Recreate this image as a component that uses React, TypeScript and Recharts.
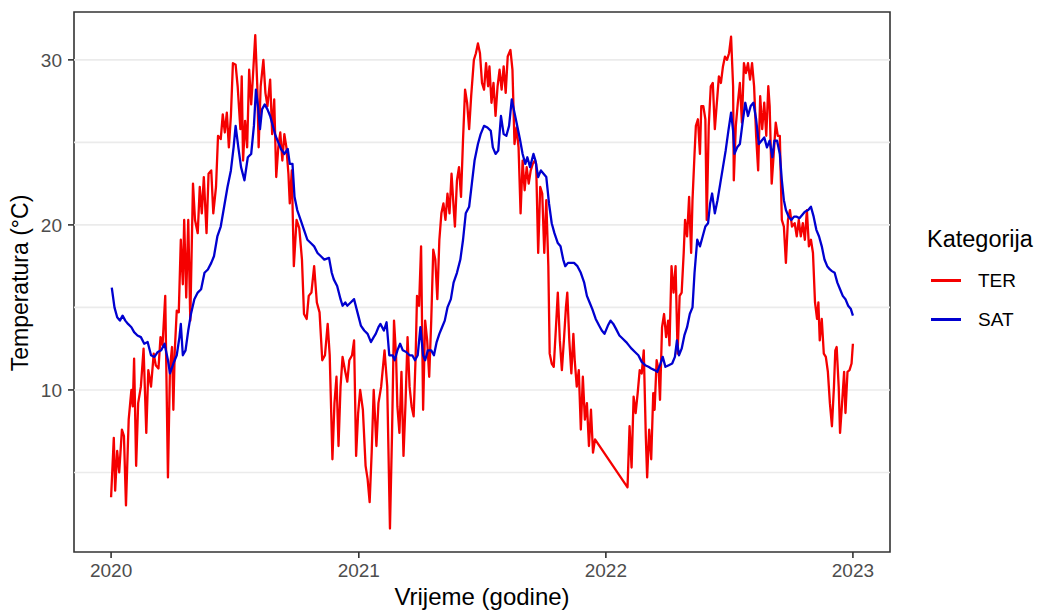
import { LineChart, Line, XAxis, YAxis, ReferenceLine, ReferenceArea } from 'recharts';

// day 0 = 1.1.2020
const terDays = [
  0, 4, 6, 9, 12, 16, 19, 22, 26, 30, 32, 34, 37, 40, 44, 48, 52, 55, 59, 63, 66, 70, 73, 76, 80, 84, 87, 90, 92, 94,
  97, 100, 103, 106, 108, 111, 114, 117, 121, 124, 128, 131, 134, 137, 141, 144, 148, 151, 155, 158, 162, 165, 168, 171, 174, 177, 180, 184, 187, 191,
  193, 195, 198, 201, 204, 207, 209, 213, 216, 218, 221, 225, 228, 231, 235, 238, 241, 244, 247, 250, 253, 256, 259, 262, 264, 267, 270, 274, 278, 282,
  285, 289, 292, 296, 300, 304, 308, 312, 316, 320, 323, 327, 330, 333, 336, 339, 342, 346, 349, 352, 356, 359, 362, 365, 368, 372, 376, 379, 382, 385,
  388, 392, 395, 399, 404, 408, 412, 415, 418, 421, 423, 426, 429, 432, 435, 438, 441, 444, 447, 450, 452, 455, 458, 461, 464, 467, 470, 473, 476, 479,
  482, 485, 488, 491, 494, 497, 500, 503, 506, 508, 511, 514, 517, 520, 523, 526, 529, 532, 536, 539, 542, 545, 548, 551, 554, 557, 559, 562, 565, 568,
  571, 574, 577, 580, 583, 586, 590, 593, 596, 599, 602, 605, 608, 611, 614, 617, 620, 623, 626, 628, 631, 634, 637, 640, 643, 646, 648, 651, 654, 657,
  660, 663, 666, 669, 672, 674, 677, 680, 683, 685, 688, 691, 694, 697, 700, 703, 706, 709, 712, 715, 763, 766, 769, 772, 775, 778, 781, 784, 787, 790,
  792, 795, 798, 801, 803, 806, 809, 811, 814, 817, 820, 823, 825, 828, 831, 834, 837, 840, 843, 846, 848, 851, 854, 857, 859, 862, 864, 867, 870, 872,
  875, 878, 880, 883, 886, 889, 892, 895, 898, 901, 904, 907, 910, 913, 916, 919, 920, 923, 926, 929, 932, 935, 938, 941, 944, 947, 950, 953, 956, 959,
  962, 965, 968, 971, 973, 976, 979, 982, 985, 988, 991, 994, 997, 1000, 1003, 1006, 1010, 1013, 1016, 1019, 1022, 1025, 1028, 1031, 1034, 1037, 1040, 1043, 1045, 1047,
  1050, 1053, 1056, 1059, 1062, 1065, 1068, 1070, 1072, 1075, 1077, 1080, 1083, 1085, 1088, 1091, 1094, 1096,
];
const terTemps = [
  3.5, 7.1, 3.9, 6.3, 5.0, 7.6, 7.2, 3.0, 8.2, 10.0, 9.0, 11.9, 5.4, 9.2, 10.2, 12.5, 7.4, 11.2, 10.2, 12.2, 11.5, 11.3, 13.2, 12.7, 15.7, 4.7, 11.3, 12.6, 8.8, 12.3,
  14.8, 14.7, 19.1, 16.4, 20.3, 15.6, 20.3, 14.2, 22.5, 20.3, 19.5, 22.3, 20.7, 22.9, 19.5, 23.1, 23.3, 20.7, 22.3, 25.4, 25.2, 26.7, 25.6, 26.8, 24.7, 26.6, 29.8, 29.7, 28.4, 25.8,
  29.0, 23.9, 26.3, 24.7, 29.4, 27.3, 28.6, 31.5, 28.4, 24.7, 28.4, 30.0, 28.0, 27.2, 28.8, 25.5, 27.6, 22.9, 24.7, 25.6, 23.9, 25.5, 24.7, 23.1, 21.3, 23.3, 17.5, 20.3, 19.8, 17.9,
  14.6, 14.3, 15.7, 15.9, 17.5, 15.3, 14.7, 11.8, 12.1, 14.0, 12.1, 5.8, 9.2, 10.8, 6.6, 10.2, 12.0, 11.1, 10.5, 11.8, 12.1, 13.0, 6.0, 8.6, 10.0, 8.8, 5.4, 4.6, 3.2, 6.2,
  10.0, 6.6, 9.2, 10.2, 12.4, 10.2, 1.6, 7.2, 14.2, 12.1, 9.0, 7.4, 11.1, 6.0, 9.2, 13.2, 10.2, 9.0, 8.4, 12.1, 15.7, 15.1, 18.7, 8.8, 14.2, 13.0, 10.8, 14.2, 18.5, 17.9,
  15.5, 19.1, 20.7, 21.3, 20.3, 21.9, 20.7, 23.1, 21.1, 19.9, 22.7, 23.5, 21.7, 25.2, 28.2, 27.4, 25.8, 27.8, 30.0, 30.4, 31.0, 30.4, 28.6, 28.2, 29.8, 28.4, 29.6, 27.4, 28.6, 26.6,
  28.4, 29.4, 28.2, 29.6, 28.0, 30.2, 30.6, 29.4, 24.9, 25.9, 24.7, 20.7, 23.9, 22.1, 23.5, 22.5, 23.3, 23.7, 23.9, 23.7, 18.3, 22.3, 21.9, 18.3, 21.5, 17.5, 12.2, 11.6, 11.4, 13.6,
  15.9, 13.0, 11.2, 13.0, 15.0, 15.9, 13.0, 11.0, 13.4, 11.8, 10.2, 11.2, 7.6, 10.8, 8.2, 9.2, 6.6, 8.8, 6.2, 7.0, 4.1, 7.8, 5.3, 9.6, 8.6, 9.8, 11.2, 11.0, 12.4, 7.2,
  4.7, 7.6, 5.8, 9.8, 8.8, 11.8, 11.2, 9.4, 13.8, 14.6, 13.2, 14.2, 12.7, 17.5, 15.9, 17.5, 12.2, 15.7, 15.9, 18.3, 20.3, 19.3, 21.7, 18.3, 21.5, 24.3, 26.0, 26.4, 24.3, 27.2,
  27.2, 26.4, 20.3, 26.0, 28.4, 28.6, 25.8, 27.4, 29.0, 28.6, 29.6, 30.2, 30.0, 30.4, 31.4, 28.4, 22.7, 26.0, 27.4, 28.6, 26.2, 29.8, 29.2, 29.8, 28.8, 29.8, 28.4, 25.4, 23.3, 27.8,
  25.8, 27.4, 25.4, 28.4, 27.2, 22.5, 24.3, 26.2, 25.4, 25.4, 20.3, 19.9, 17.7, 20.3, 20.9, 19.9, 20.1, 19.3, 20.3, 19.3, 20.1, 19.1, 20.9, 18.7, 19.1, 18.3, 15.3, 14.3, 15.3, 13.0,
  14.3, 12.2, 12.0, 11.1, 9.2, 7.8, 10.2, 12.4, 12.6, 10.2, 7.4, 9.2, 11.1, 8.6, 11.1, 11.2, 11.6, 12.8,
];
const satDays = [
  1, 5, 9, 13, 17, 21, 25, 30, 34, 39, 44, 49, 54, 59, 64, 69, 74, 79, 84, 87, 92, 97, 101, 103, 106, 110, 114, 118, 123, 128,
  133, 138, 143, 148, 152, 157, 162, 167, 172, 177, 181, 184, 188, 192, 197, 202, 207, 211, 214, 217, 220, 223, 227, 231, 235, 239, 243, 247, 251, 256,
  261, 264, 268, 271, 275, 280, 285, 290, 295, 300, 305, 310, 315, 322, 326, 329, 334, 339, 342, 346, 349, 354, 359, 364, 369, 374, 379, 384, 388, 391,
  395, 398, 403, 407, 411, 416, 419, 423, 427, 431, 436, 441, 445, 449, 453, 457, 461, 464, 468, 473, 477, 481, 485, 489, 493, 497, 502, 506, 511, 516,
  520, 524, 529, 533, 537, 542, 546, 551, 556, 561, 564, 568, 572, 576, 580, 584, 588, 592, 595, 599, 604, 608, 612, 615, 619, 624, 627, 631, 635, 639,
  643, 647, 651, 655, 660, 664, 668, 671, 675, 680, 684, 689, 694, 699, 703, 707, 711, 716, 721, 725, 729, 734, 738, 742, 746, 751, 756, 761, 765, 769,
  774, 779, 784, 789, 794, 798, 803, 807, 811, 815, 819, 824, 829, 833, 836, 839, 843, 847, 851, 855, 859, 862, 866, 870, 874, 878, 882, 885, 888, 892,
  896, 900, 904, 908, 912, 916, 919, 921, 925, 929, 933, 937, 941, 945, 949, 953, 957, 961, 965, 969, 973, 977, 980, 984, 988, 991, 994, 997, 1001, 1005,
  1009, 1013, 1017, 1021, 1025, 1030, 1034, 1038, 1042, 1046, 1050, 1054, 1058, 1062, 1065, 1069, 1073, 1077, 1081, 1085, 1089, 1093, 1096,
];
const satTemps = [
  16.2, 15.0, 14.4, 14.2, 14.5, 14.2, 14.0, 13.8, 13.5, 13.3, 13.2, 12.8, 12.9, 12.1, 12.0, 12.3, 12.4, 12.8, 11.8, 11.0, 11.6, 12.1, 13.2, 14.0, 12.1, 12.4, 13.6, 14.6, 15.5, 15.9,
  16.1, 17.1, 17.3, 17.7, 18.1, 19.3, 19.9, 21.1, 22.3, 23.3, 24.7, 26.0, 24.7, 23.5, 22.7, 24.1, 24.3, 26.0, 28.2, 27.2, 25.8, 27.0, 27.3, 27.0, 26.6, 26.0, 25.4, 25.0, 24.6, 24.3,
  24.6, 23.7, 23.7, 21.7, 20.9, 20.3, 19.7, 19.1, 18.9, 18.7, 18.3, 18.1, 17.9, 18.0, 17.1, 16.7, 16.3, 15.5, 15.1, 15.3, 15.1, 15.3, 15.5, 14.7, 13.9, 13.6, 13.4, 12.9, 13.2, 13.4,
  13.8, 14.0, 13.6, 14.1, 12.1, 12.1, 11.8, 12.4, 12.8, 12.4, 12.3, 12.1, 12.1, 11.8, 12.1, 13.8, 12.1, 11.8, 12.4, 12.4, 12.1, 12.9, 13.4, 13.8, 14.2, 15.0, 15.5, 16.5, 17.1, 17.9,
  19.1, 20.7, 21.1, 22.5, 23.9, 24.9, 25.5, 26.0, 25.9, 25.7, 24.7, 24.3, 24.5, 26.6, 25.5, 25.4, 26.0, 27.6, 27.0, 26.2, 25.2, 24.3, 23.7, 24.1, 23.5, 24.3, 23.9, 22.9, 23.3, 23.1,
  22.9, 21.3, 20.1, 19.5, 18.9, 18.7, 17.9, 17.5, 17.7, 17.7, 17.7, 17.5, 17.1, 16.5, 15.7, 15.3, 14.9, 14.3, 13.9, 13.6, 13.4, 13.9, 14.2, 14.0, 13.7, 13.3, 13.1, 12.9, 12.7, 12.5,
  12.3, 12.1, 11.7, 11.5, 11.4, 11.3, 11.2, 11.1, 11.5, 12.0, 11.4, 11.5, 11.6, 12.0, 13.0, 12.1, 12.5, 13.3, 13.8, 14.6, 15.0, 17.1, 19.1, 18.7, 19.3, 19.9, 20.1, 21.3, 21.9, 20.7,
  21.5, 22.5, 23.5, 24.5, 25.7, 26.8, 25.7, 24.3, 24.7, 24.9, 26.2, 27.4, 26.6, 27.2, 27.4, 26.4, 24.9, 25.1, 25.3, 24.7, 25.1, 24.1, 25.1, 25.1, 24.3, 22.7, 21.5, 20.9, 20.5, 20.3,
  20.5, 20.5, 20.4, 20.6, 20.8, 20.9, 21.1, 20.5, 19.7, 19.3, 18.7, 17.9, 17.5, 17.3, 17.2, 17.1, 16.5, 16.1, 15.7, 15.5, 15.1, 14.9, 14.5,
];

const yearTicks = [0, 366, 731, 1096];
const yearLabels = ['2020', '2021', '2022', '2023'];
const tempTicks = [10, 20, 30];
const gridTemps = [5, 10, 15, 20, 25, 30];
const seriesNames = ['TER', 'SAT'];
const seriesColors = ['#f50000', '#0000d0'];

const terData = terDays.map((d, i) => ({ day: d, temp: terTemps[i] }));
const satData = satDays.map((d, i) => ({ day: d, temp: satTemps[i] }));
const seriesData = [terData, satData];

const X_DOMAIN: [number, number] = [-54.8, 1150.8];
const Y_DOMAIN: [number, number] = [0.18, 32.9];
const FONT = '"Liberation Sans", Arial, Helvetica, sans-serif';

export default function App() {
  return (
    <div style={{ position: 'absolute', left: 0, top: 0, width: 1040, height: 613, background: '#fff', fontFamily: FONT }}>
      <LineChart width={1040} height={613} margin={{ top: 12, right: 150, bottom: 0, left: 0 }}>
        <XAxis
          type="number"
          dataKey="day"
          domain={X_DOMAIN}
          allowDataOverflow
          ticks={yearTicks}
          interval={0}
          tickFormatter={(v) => yearLabels[yearTicks.indexOf(v)]}
          height={61}
          axisLine={false}
          tickSize={6}
          tickMargin={6}
          tickLine={{ stroke: '#333', strokeWidth: 1.6 }}
          tick={{ fill: '#4d4d4d', fontSize: 19 }}
        />
        <YAxis
          type="number"
          domain={Y_DOMAIN}
          allowDataOverflow
          ticks={tempTicks}
          interval={0}
          width={74}
          axisLine={false}
          tickSize={6}
          tickMargin={6}
          tickLine={{ stroke: '#333', strokeWidth: 1.6 }}
          tick={{ fill: '#4d4d4d', fontSize: 19 }}
        />
        {gridTemps.map((t) => (
          <ReferenceLine key={t} y={t} stroke="#ebebeb" strokeWidth={1.6} />
        ))}
        {seriesNames.map((name, i) => (
          <Line
            key={name}
            name={name}
            data={seriesData[i]}
            dataKey="temp"
            type="linear"
            stroke={seriesColors[i]}
            strokeWidth={2.3}
            strokeLinejoin="round"
            dot={false}
            activeDot={false}
            isAnimationActive={false}
          />
        ))}
        <ReferenceArea
          x1={X_DOMAIN[0]}
          x2={X_DOMAIN[1]}
          y1={Y_DOMAIN[0]}
          y2={Y_DOMAIN[1]}
          fill="none"
          fillOpacity={0}
          stroke="#333"
          strokeWidth={1.6}
        />
      </LineChart>

      <div
        style={{
          position: 'absolute',
          left: 19.5,
          top: 283,
          transform: 'translate(-50%, -50%) rotate(-90deg)',
          fontSize: 23,
          lineHeight: '23px',
          whiteSpace: 'nowrap',
          color: '#000',
        }}
      >
        Temperatura (°C)
      </div>
      <div
        style={{
          position: 'absolute',
          left: 482,
          top: 597,
          transform: 'translate(-50%, -50%)',
          fontSize: 24,
          lineHeight: '24px',
          whiteSpace: 'nowrap',
          color: '#000',
        }}
      >
        Vrijeme (godine)
      </div>

      <div style={{ position: 'absolute', left: 927, top: 225 }}>
        <div style={{ fontSize: 23.5, lineHeight: '28px', color: '#000' }}>Kategorija</div>
        <div style={{ marginTop: 8 }}>
          {seriesNames.map((name, i) => (
            <div key={name} style={{ display: 'flex', alignItems: 'center', height: 39 }}>
              <div style={{ width: 30, height: 2.3, background: seriesColors[i], marginLeft: 4 }} />
              <span style={{ marginLeft: 17, fontSize: 19, color: '#000' }}>{name}</span>
            </div>
          ))}
        </div>
      </div>
    </div>
  );
}
